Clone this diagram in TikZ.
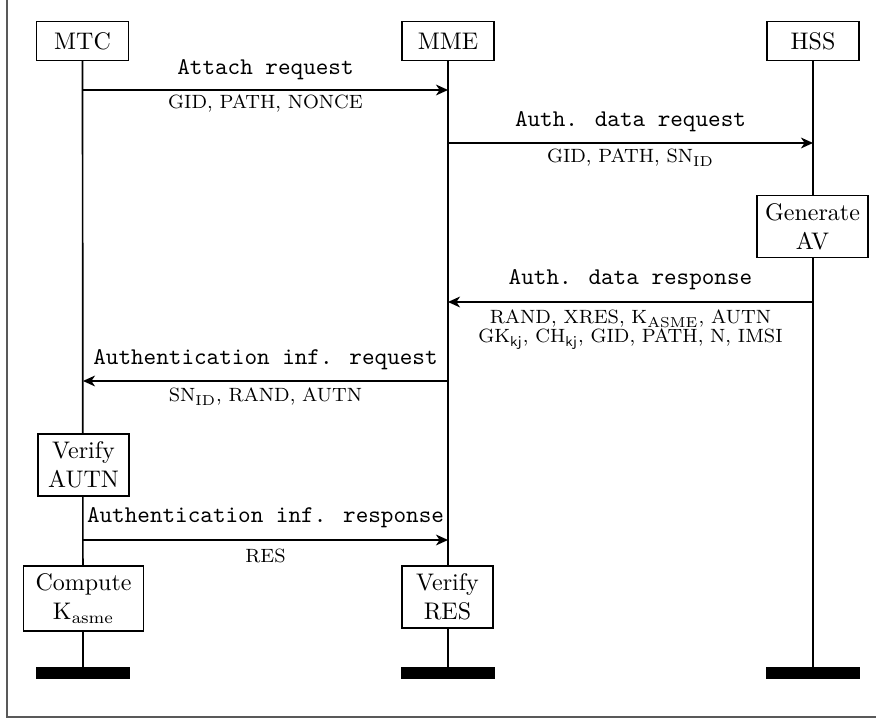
\documentclass[tikz,border=0pt]{standalone}
\usetikzlibrary{arrows.meta}
\begin{document}
\begin{tikzpicture}[x=0.4167pt,y=-0.4167pt,
  ent/.style={draw,line width=0.6pt,fill=white,minimum width=38.3pt,minimum height=16.2pt,inner sep=3.33pt},
  act/.style={draw,line width=0.6pt,fill=white,align=center,minimum width=38pt,inner sep=3.33pt},
  life/.style={line width=0.7pt},
  msg/.style={line width=0.7pt,-{Stealth[length=5pt,width=4.5pt,inset=1.5pt]}},
  cmd/.style={font=\ttfamily,inner sep=0pt},
  par/.style={font=\footnotesize,align=center,inner sep=0pt},
  endbar/.style={fill=black,draw=none,inner sep=0pt,minimum width=38.8pt,minimum height=4.6pt},
  frame/.style={black!65,line width=0.6pt}]
\useasboundingbox (0,0) rectangle (876,720);
\draw[frame] (7,-10) -- (7,717) -- (890,717);

% actors
\node[ent] (mtc) at (82.5,41) {MTC};
\node[ent] (mme) at (448,41) {MME};
\node[ent] (hss) at (813,41) {HSS};

% end bars
\node[endbar] (mtcend) at (83,673) {};
\node[endbar] (mmeend) at (448,673) {};
\node[endbar] (hssend) at (813,673) {};

% lifelines
\draw[life] (mtc) -- (mtcend);
\draw[life] (mme) -- (mmeend);
\draw[life] (hss) -- (hssend);

% message end points
\coordinate (m1a) at (83,90);   \coordinate (m1b) at (448,90);
\coordinate (m2a) at (448,143); \coordinate (m2b) at (813,143);
\coordinate (m3a) at (813,302); \coordinate (m3b) at (448,302);
\coordinate (m4a) at (448,381); \coordinate (m4b) at (83,381);
\coordinate (m5a) at (83,540);  \coordinate (m5b) at (448,540);

% messages
\draw[msg] (m1a) -- (m1b);
\node[cmd] (l1) at (265.5,70) {Attach request};
\node[par] (p1) at (265.5,104) {GID, PATH, NONCE};

\draw[msg] (m2a) -- (m2b);
\node[cmd] (l2) at (630.5,122) {Auth. data request};
\node[par] (p2) at (630.5,158) {GID, PATH, SN$_\mathrm{ID}$};

\node[act] (gen) at (812.5,226.5) {Generate\\AV};

\draw[msg] (m3a) -- (m3b);
\node[cmd] (l3) at (630.5,280) {Auth. data response};
\node[par] (p3a) at (630.5,319) {RAND, XRES, K$_\mathrm{ASME}$, AUTN};
\node[par] (p3b) at (630.5,339) {GK$_\mathsf{kj}$, CH$_\mathsf{kj}$, GID, PATH, N, IMSI};

\draw[msg] (m4a) -- (m4b);
\node[cmd] (l4) at (265.5,360) {Authentication inf. request};
\node[par] (p4) at (265.5,397) {SN$_\mathrm{ID}$, RAND, AUTN};

\node[act] (vaut) at (83.5,465) {Verify\\AUTN};

\draw[msg] (m5a) -- (m5b);
\node[cmd] (l5) at (265.5,518) {Authentication inf. response};
\node[par] (p5) at (265.5,556) {RES};

\node[act,minimum width=50pt] (comp) at (83.5,598.5) {Compute\\K$_\mathrm{asme}$};
\node[act] (vres) at (447.5,597) {Verify\\RES};
\end{tikzpicture}
\end{document}
